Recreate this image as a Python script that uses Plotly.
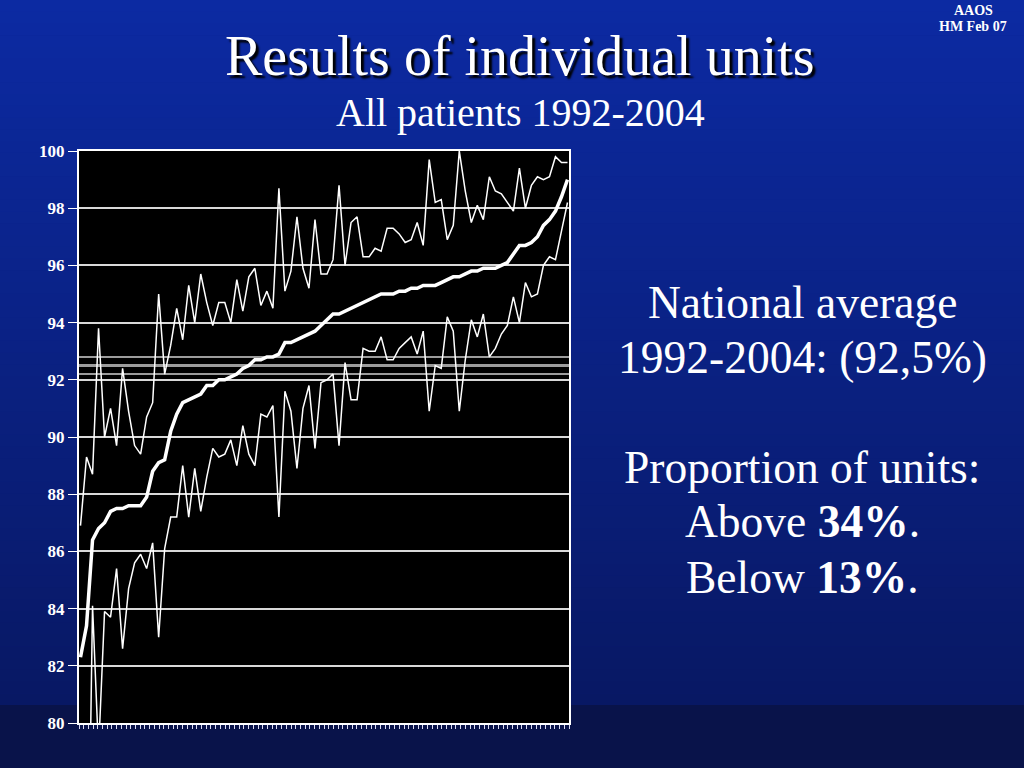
import plotly.graph_objects as go

# ---------------- data ----------------
unit_index = list(range(82))

unit_result = [
    82.3, 83.4, 86.4, 86.8, 87.0, 87.4, 87.5, 87.5, 87.6, 87.6,
    87.6, 87.9, 88.8, 89.1, 89.2, 90.2, 90.8, 91.2, 91.3, 91.4,
    91.5, 91.8, 91.8, 92.0, 92.0, 92.1, 92.2, 92.4, 92.5, 92.7,
    92.7, 92.8, 92.8, 92.9, 93.3, 93.3, 93.4, 93.5, 93.6, 93.7,
    93.9, 94.1, 94.3, 94.3, 94.4, 94.5, 94.6, 94.7, 94.8, 94.9,
    95.0, 95.0, 95.0, 95.1, 95.1, 95.2, 95.2, 95.3, 95.3, 95.3,
    95.4, 95.5, 95.6, 95.6, 95.7, 95.8, 95.8, 95.9, 95.9, 95.9,
    96.0, 96.1, 96.4, 96.7, 96.7, 96.8, 97.0, 97.4, 97.6, 97.9,
    98.4, 99.0,
]

upper_limit = [
    86.9, 89.3, 88.7, 93.8, 90.0, 91.0, 89.7, 92.4, 90.9, 89.7,
    89.4, 90.7, 91.2, 95.0, 92.2, 93.2, 94.5, 93.4, 95.3, 94.0,
    95.7, 94.7, 93.9, 94.7, 94.7, 94.0, 95.5, 94.4, 95.6, 95.9,
    94.6, 95.1, 94.5, 98.7, 95.1, 95.8, 97.7, 95.9, 95.2, 97.6,
    95.7, 95.7, 96.2, 98.8, 96.0, 97.5, 97.7, 96.3, 96.3, 96.6,
    96.5, 97.3, 97.3, 97.1, 96.8, 96.9, 97.5, 96.7, 99.7, 98.2,
    98.3, 96.9, 97.4, 100.0, 98.6, 97.5, 98.1, 97.6, 99.1, 98.6,
    98.5, 98.2, 97.9, 99.4, 98.0, 98.8, 99.1, 99.0, 99.1, 99.8,
    99.6, 99.6,
]

lower_limit = [
    70.0, 70.0, 84.1, 79.0, 83.9, 83.7, 85.4, 82.6, 84.7, 85.6,
    85.9, 85.4, 86.3, 83.0, 86.1, 87.2, 87.2, 89.0, 87.2, 88.9,
    87.4, 88.6, 89.6, 89.3, 89.4, 89.9, 89.0, 90.4, 89.4, 89.0,
    90.8, 90.7, 91.1, 87.2, 91.6, 90.9, 88.9, 91.0, 91.8, 89.6,
    91.9, 92.0, 92.2, 89.7, 92.6, 91.3, 91.3, 93.1, 93.0, 93.0,
    93.5, 92.7, 92.7, 93.1, 93.3, 93.5, 92.9, 93.7, 90.9, 92.5,
    92.4, 94.2, 93.7, 90.9, 92.7, 94.1, 93.5, 94.3, 92.8, 93.1,
    93.6, 93.9, 94.9, 94.0, 95.4, 94.9, 95.0, 96.0, 96.3, 96.2,
    97.2, 98.2,
]

reference_lines = [92.2, 92.5, 92.8]
reference_widths = [2, 3, 2]
y_ticks = [80, 82, 84, 86, 88, 90, 92, 94, 96, 98, 100]

# ---------------- geometry ----------------
W, H = 1024, 768
L, R, T, B = 79, 569, 151, 723
PW, PH = R - L, B - T
SERIF = "Liberation Serif, Times New Roman, serif"


def px_x(x):
    return (x - L) / PW


def px_y(y):
    return (B - y) / PH


x_lo, x_hi = -0.25, len(unit_index) - 1 + 0.25
n_ticks = 104

fig = go.Figure()

# national average reference lines (span the whole x axis)
for v, w in zip(reference_lines, reference_widths):
    fig.add_trace(go.Scatter(x=[x_lo, x_hi], y=[v, v], mode="lines",
                             line=dict(color="#9c9c9c", width=w),
                             hoverinfo="skip", showlegend=False))

line_thin = dict(color="#ffffff", width=1.5)
fig.add_trace(go.Scatter(x=unit_index, y=upper_limit, mode="lines",
                         line=line_thin, hoverinfo="skip", showlegend=False))
fig.add_trace(go.Scatter(x=unit_index, y=lower_limit, mode="lines",
                         line=line_thin, hoverinfo="skip", showlegend=False))
fig.add_trace(go.Scatter(x=unit_index, y=unit_result, mode="lines",
                         line=dict(color="#ffffff", width=3.5),
                         hoverinfo="skip", showlegend=False))

shapes = []
# slide background gradient
top_rgb = (12, 42, 162)
bot_rgb = (8, 24, 100)
n_strips = 60
band_top = 705
for k in range(n_strips):
    t = k / (n_strips - 1)
    c = tuple(int(round(a + (b - a) * t)) for a, b in zip(top_rgb, bot_rgb))
    y0 = band_top * k / n_strips
    y1 = band_top * (k + 1) / n_strips + 0.6
    shapes.append(dict(type="rect", xref="paper", yref="paper",
                       x0=px_x(0), x1=px_x(W), y0=px_y(y1), y1=px_y(y0),
                       fillcolor="rgb(%d,%d,%d)" % c, line=dict(width=0),
                       layer="below"))
shapes.append(dict(type="rect", xref="paper", yref="paper",
                   x0=px_x(0), x1=px_x(W), y0=px_y(H), y1=px_y(band_top),
                   fillcolor="rgb(9,19,74)", line=dict(width=0), layer="below"))
# black plot area
shapes.append(dict(type="rect", xref="paper", yref="paper",
                   x0=0, x1=1, y0=0, y1=1, fillcolor="#000000",
                   line=dict(width=0), layer="below"))

ann = []


def text(s, x, y, size, bold=False, shadow=None):
    f = dict(family=SERIF, size=size, color="#ffffff")
    if bold:
        f["weight"] = "bold"
    if shadow:
        f["shadow"] = shadow
    ann.append(dict(text=s, x=px_x(x), y=px_y(y), xref="paper", yref="paper",
                    xanchor="center", yanchor="middle", showarrow=False,
                    font=f))


text("Results of individual units", 520, 56, 56, shadow="3px 3px 2px #000000")
text("All patients 1992-2004", 520, 113, 40)
text("AAOS", 973, 10, 14, bold=True)
text("HM Feb 07", 973, 26, 14, bold=True)
rx = 802
text("National average", rx, 302, 45.5)
text("1992-2004: (92,5%)", rx, 357, 45.5)
text("Proportion of units:", rx, 467, 45.5)
text("Above <b>34%</b>.", rx, 521, 45.5)
text("Below <b>13%</b>.", rx, 577, 45.5)

fig.update_layout(
    width=W, height=H, autosize=False,
    margin=dict(l=L, r=W - R, t=T, b=H - B, pad=0),
    paper_bgcolor="rgb(10,34,132)",
    plot_bgcolor="#000000",
    shapes=shapes, annotations=ann,
    xaxis=dict(range=[x_lo, x_hi], showgrid=False, zeroline=False,
               showline=True, linecolor="#ffffff", linewidth=2, mirror=True,
               ticks="outside", ticklen=4, tickwidth=1, tickcolor="#dcdcf4",
               tickmode="linear", tick0=x_lo, dtick=(x_hi - x_lo) / n_ticks,
               showticklabels=False, fixedrange=True),
    yaxis=dict(range=[80, 100], tickmode="array", tickvals=y_ticks,
               ticktext=[str(v) for v in y_ticks],
               showgrid=True, gridcolor="#d8d8d8", gridwidth=2,
               zeroline=False, showline=True, linecolor="#ffffff",
               linewidth=2, mirror=True, ticks="outside", ticklen=9,
               tickwidth=1, tickcolor="#ffffff",
               tickfont=dict(family=SERIF, size=17, color="#ffffff",
                             weight="bold"),
               fixedrange=True),
)

fig.write_html("out.html", config={"displayModeBar": False},
               post_script="document.body.style.margin='0px';"
                           "document.body.style.overflow='hidden';")
